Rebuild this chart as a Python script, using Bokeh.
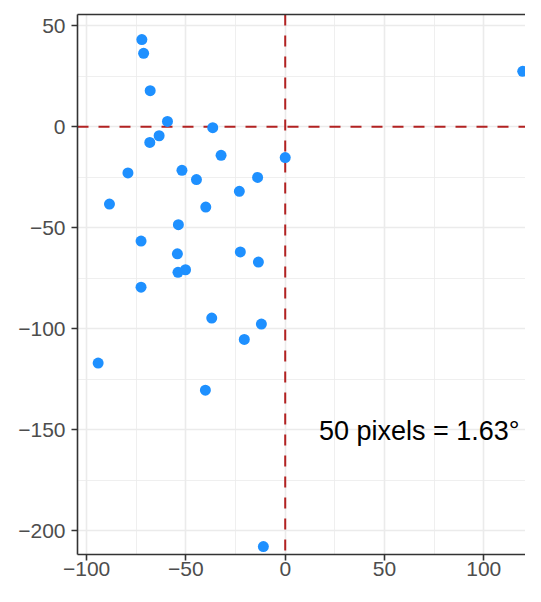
from bokeh.plotting import figure
from bokeh.models import Range1d, FixedTicker, Span, Label, LinearAxis, ColumnDataSource
from bokeh.embed import file_html
from bokeh.resources import INLINE

# data
x_vals = [-72.2, -71.3, -68.0, -59.3, -36.5, -63.5, -68.2, -32.3, 0.0, -79.2,
          -52.0, -44.7, -13.9, -23.1, -88.5, -40.0, -53.8, -72.6, -54.3, -22.6,
          -13.5, -54.0, -50.2, -72.6, -37.0, -12.0, -20.6, -94.2, -40.2, -11.0,
          119.6]
y_vals = [43.1, 36.3, 17.8, 2.6, -0.5, -4.5, -7.8, -14.2, -15.3, -22.9,
          -21.6, -26.2, -25.1, -32.0, -38.3, -39.8, -48.5, -56.6, -62.9, -62.0,
          -67.0, -72.1, -70.8, -79.4, -94.7, -97.7, -105.3, -117.0, -130.4, -207.8,
          27.4]

x_ticks = [-100, -50, 0, 50, 100]
x_tick_labels = ["\u2212100", "\u221250", "0", "50", "100"]
x_minor = [-75, -25, 25, 75]
y_ticks = [50, 0, -50, -100, -150, -200]
y_tick_labels = ["50", "0", "\u221250", "\u2212100", "\u2212150", "\u2212200"]
y_minor = [25, -25, -75, -125, -175]

annot_text = "50 pixels = 1.63\u00b0"
annot_x = 67.5
annot_y = -150.4

FONT = "Liberation Sans"
DARK = "#333333"

p = figure(width=525, height=586, output_backend="svg", toolbar_location=None,
           x_range=Range1d(-104.6, 121.0), y_range=Range1d(-211.7, 55.5),
           x_axis_location=None, y_axis_location=None,
           min_border_left=77, min_border_right=0, min_border_top=14, min_border_bottom=32)
p.outline_line_color = None
p.background_fill_color = "white"
p.border_fill_color = "white"

def style_axis(ax, ticks, labels):
    ax.ticker = FixedTicker(ticks=ticks)
    ax.major_label_overrides = {t: l for t, l in zip(ticks, labels)}
    ax.axis_line_color = DARK
    ax.axis_line_width = 1.6
    ax.major_tick_line_color = DARK
    ax.major_tick_line_width = 1.6
    ax.major_tick_out = 6
    ax.major_tick_in = 0
    ax.minor_tick_line_color = None
    ax.major_label_text_font = FONT
    ax.major_label_text_font_size = "21px"
    ax.major_label_text_color = "#4D4D4D"

xax = LinearAxis()
style_axis(xax, x_ticks, x_tick_labels)
xax.major_label_standoff = 1
p.add_layout(xax, "below")

yax = LinearAxis()
style_axis(yax, y_ticks, y_tick_labels)
yax.major_label_standoff = 6
p.add_layout(yax, "left")

top = LinearAxis()
top.ticker = FixedTicker(ticks=[])
top.axis_line_color = DARK
top.axis_line_width = 1.6
top.major_tick_line_color = None
top.minor_tick_line_color = None
top.major_label_text_color = None
top.major_tick_out = 0
top.major_label_standoff = 0
p.add_layout(top, "above")

for g, ticks, minor in ((p.xgrid, x_ticks, x_minor), (p.ygrid, y_ticks, y_minor)):
    g.ticker = FixedTicker(ticks=ticks, minor_ticks=minor)
    g.grid_line_color = "#EBEBEB"
    g.grid_line_width = 1.6
    g.minor_grid_line_color = "#EBEBEB"
    g.minor_grid_line_width = 0.8

for dim in ("height", "width"):
    s = Span(location=0, dimension=dim, line_color="#B22222", line_width=2,
             line_dash="11 10", level="underlay")
    p.add_layout(s)

src = ColumnDataSource(dict(x=x_vals, y=y_vals))
p.scatter("x", "y", source=src, size=11, fill_color="#1E90FF", line_color="#1E90FF", line_width=0)

p.add_layout(Label(x=annot_x, y=annot_y, text=annot_text, text_align="center",
                   text_baseline="middle", text_font=FONT, text_font_size="27px",
                   text_color="black"))

open("out.html", "w").write(file_html(p, INLINE))
